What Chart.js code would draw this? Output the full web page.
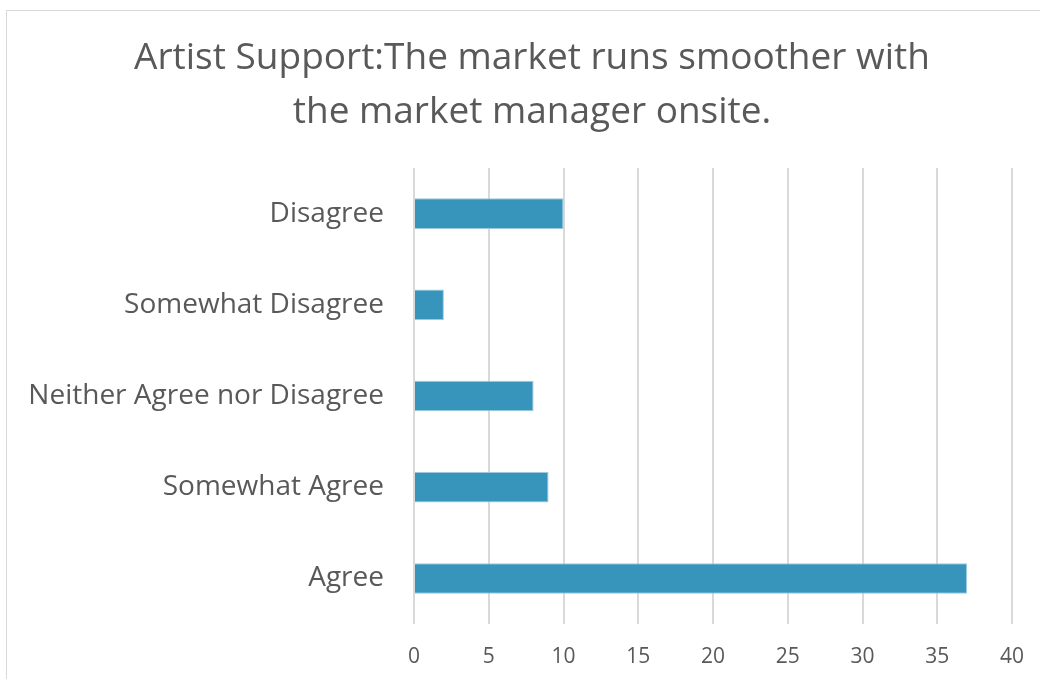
<!DOCTYPE html>
<html>
<head>
<meta charset="utf-8">
<script src="https://cdn.jsdelivr.net/npm/chart.js@4"></script>
<style>
  html, body { margin: 0; padding: 0; background: #fff; overflow: hidden; width: 1040px; height: 679px; }
  #frame { position: absolute; left: 6px; top: 10px; width: 1052px; height: 700px; border: 1px solid #d9d9d9; }
  #chart { display: block; }
</style>
</head>
<body>
<div id="frame"><canvas id="chart" width="1052" height="700"></canvas></div>
<script>
// Data
var categories = ['Disagree', 'Somewhat Disagree', 'Neither Agree nor Disagree', 'Somewhat Agree', 'Agree'];
var responses = [10, 2, 8, 9, 37];
var titleLines = ['Artist Support:The market runs smoother with', 'the market manager onsite.'];

// centre the title on the whole frame, not on the padded box
var centerTitle = {
    id: 'centerTitle',
    afterLayout: function (chart) {
        if (chart.titleBlock) { chart.titleBlock.left = 45; }
    }
};

var ctx = document.getElementById('chart').getContext('2d');
var chart = new Chart(ctx, {
    type: 'bar',
    data: {
        labels: categories,
        datasets: [{
            label: 'Responses',
            data: responses,
            backgroundColor: '#3795bc',
            borderColor: '#9ccbe0',
            borderWidth: 1,
            barPercentage: 0.67,
            categoryPercentage: 0.5
        }]
    },
    options: {
        indexAxis: 'y',
        responsive: false,
        animation: false,
        layout: { padding: { left: 0, right: 47, top: 0, bottom: 0 } },
        plugins: {
            legend: { display: false },
            tooltip: { enabled: false },
            title: {
                display: true,
                text: titleLines,
                color: '#595959',
                font: { family: 'Open Sans', size: 37, weight: 'normal', lineHeight: 1.46 },
                padding: { top: 20, bottom: 29 }
            }
        },
        scales: {
            x: {
                min: 0,
                max: 40,
                ticks: { stepSize: 5, color: '#595959', font: { family: 'Open Sans', size: 21 }, padding: 20 },
                grid: { color: '#d9d9d9', lineWidth: 2, drawTicks: false },
                border: { display: false },
                afterFit: function (scale) { scale.height = 87; }
            },
            y: {
                ticks: { color: '#595959', font: { family: 'Open Sans', size: 28 }, padding: 30 },
                grid: { display: false, drawTicks: false },
                border: { display: false },
                afterFit: function (scale) { scale.width = 407; }
            }
        }
    },
    plugins: [centerTitle]
});
</script>
</body>
</html>
